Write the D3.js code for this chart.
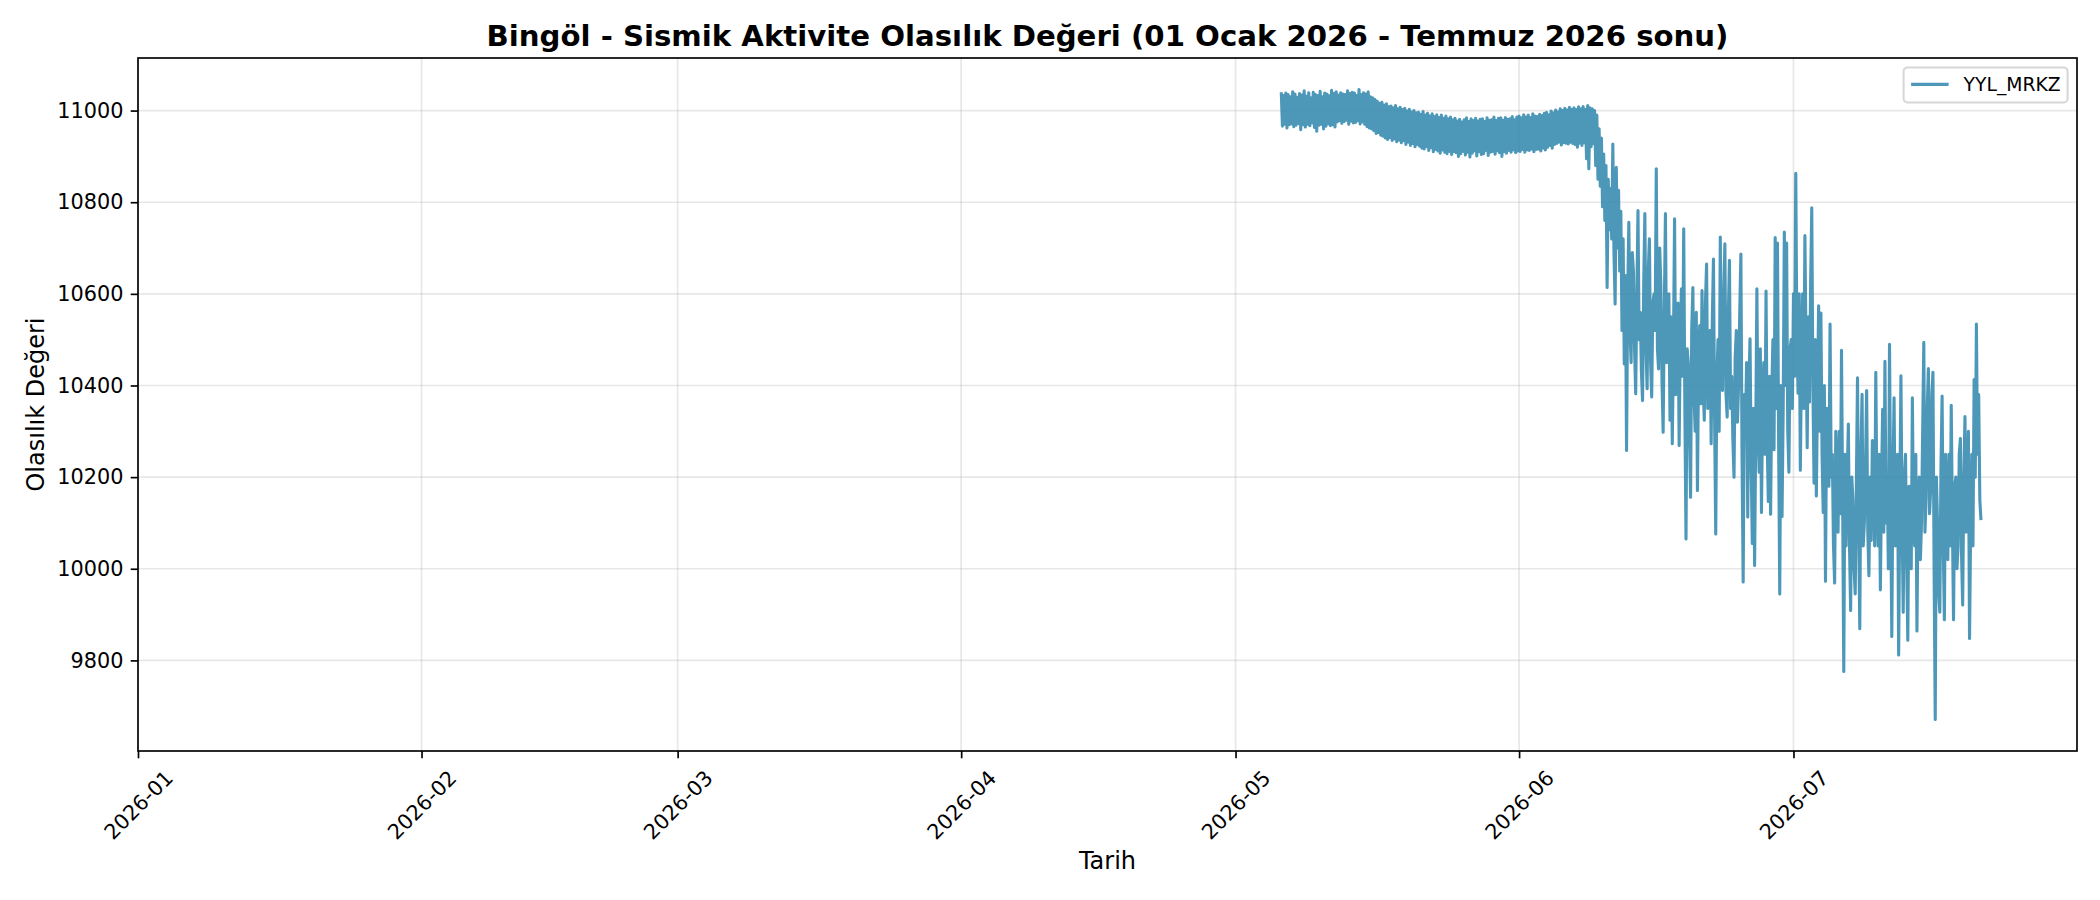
<!DOCTYPE html>
<html>
<head>
<meta charset="utf-8">
<script src="https://cdn.jsdelivr.net/npm/d3@7"></script>
<style>
    body { margin: 0; background: #fff; }
    svg { display: block; font-family: "DejaVu Sans", sans-serif; }
</style>
</head>
<body>
<div id="chart"></div>
<script>
// series: one reading every 3 hours from 6 May 2026, one row per day
const seriesName = "YYL_MRKZ";
const seriesStart = "2026-05-06T00:00";
const stepHours = 3;

const mayValues = [
    11040, 10966, 11033, 10970, 11038, 10962, 11035, 10969,
    11030, 10971, 11041, 10965, 11036, 10968, 11029, 10972,
    11037, 10958, 11034, 10969, 11043, 10964, 11031, 10970,
    11039, 10967, 11028, 10973, 11040, 10963, 11035, 10955,
    11033, 10968, 11042, 10970, 11030, 10960, 11038, 10966,
    11036, 10971, 11032, 10967, 11044, 10969, 11037, 10964,
    11041, 10975, 11034, 10978, 11039, 10972, 11036, 10976,
    11035, 10979, 11043, 10970, 11037, 10977, 11040, 10973,
    11038, 10974, 11033, 10978, 11046, 10971, 11035, 10975,
    11039, 10970, 11036, 10965, 11041, 10962, 11030, 10960,
    11028, 10956, 11024, 10950, 11020, 10952, 11016, 10946,
    11018, 10944, 11012, 10940, 11015, 10937, 11009, 10941,
    11010, 10935, 11006, 10938, 11011, 10932, 11004, 10936,
    11007, 10930, 11002, 10934, 11005, 10926, 10999, 10931,
    11003, 10924, 10997, 10928, 11000, 10921, 10995, 10926,
    10996, 10922, 10992, 10918, 10998, 10916, 10990, 10921,
    10994, 10913, 10988, 10919, 10993, 10910, 10987, 10915,
    10991, 10912, 10985, 10907, 10990, 10914, 10983, 10909,
    10988, 10906, 10982, 10911, 10986, 10904, 10980, 10910,
    10983, 10908, 10977, 10900, 10981, 10906, 10975, 10911,
    10980, 10903, 10984, 10909, 10976, 10899, 10982, 10907,
    10978, 10912, 10983, 10901, 10977, 10910, 10981, 10904,
    10982, 10906, 10976, 10913, 10984, 10902, 10979, 10909,
    10980, 10911, 10986, 10905, 10978, 10912, 10983, 10908,
    10984, 10900, 10979, 10910, 10985, 10907, 10981, 10913,
    10982, 10909, 10987, 10914, 10980, 10908, 10986, 10912
];

const juneValues = [
    10988, 10911, 10984, 10915, 10991, 10909, 10986, 10914,
    10990, 10913, 10985, 10916, 10993, 10910, 10988, 10915,
    10987, 10916, 10992, 10912, 10989, 10918, 10994, 10914,
    10996, 10920, 10991, 10924, 10999, 10918, 10995, 10926,
    11001, 10928, 10997, 10931, 11004, 10925, 11000, 10930,
    11005, 10929, 11001, 10927, 11007, 10931, 11003, 10928,
    11006, 10926, 11002, 10920, 11008, 10929, 11004, 10924,
    11009, 10930, 11003, 10895, 11011, 10873, 11006, 10921,
    11004, 10928, 11000, 10880, 10990, 10850, 10960, 10835,
    10940, 10790, 10905, 10760, 10880, 10614, 10850, 10740,
    10830, 10720, 10927, 10690, 10578, 10876, 10700, 10826,
    10650, 10780, 10520, 10720, 10447, 10640, 10258, 10600,
    10756, 10520, 10450, 10690, 10650, 10480, 10382, 10600,
    10782, 10500, 10560, 10430, 10367, 10620, 10775, 10480,
    10393, 10650, 10720, 10450, 10375, 10580, 10600, 10520,
    10873, 10480, 10436, 10700, 10620, 10410, 10298, 10560,
    10775, 10450, 10500, 10600, 10324, 10550, 10273, 10480,
    10764, 10380, 10400, 10580, 10269, 10500, 10611, 10420,
    10742, 10350, 10065, 10480, 10450, 10300, 10156, 10520,
    10614, 10380, 10300, 10560, 10171, 10450, 10531, 10360,
    10607, 10400, 10324, 10580, 10665, 10350, 10450, 10520,
    10273, 10540, 10676, 10330, 10076, 10420, 10500, 10300,
    10724, 10420, 10389, 10600, 10709, 10380, 10331, 10550,
    10673, 10350, 10420, 10280, 10200, 10460, 10520, 10320,
    10400, 10560, 10687, 10250, 9971, 10380, 10300, 10450,
    10113, 10400, 10502, 10230, 10055, 10350, 10007, 10300,
    10611, 10300, 10211, 10480, 10123, 10350, 10450, 10250,
    10606, 10280, 10147, 10420, 10119, 10380, 10500, 10260,
    10723, 10350, 10711, 10280, 9945, 10400, 10114, 10350,
    10735, 10400, 10711, 10300, 10211, 10480, 10500, 10350
];

const julyValues = [
    10600, 10420, 10863, 10500, 10383, 10600, 10215, 10450,
    10600, 10350, 10727, 10480, 10264, 10550, 10364, 10620,
    10788, 10400, 10187, 10500, 10159, 10380, 10574, 10300,
    10558, 10250, 10123, 10400, 9973, 10350, 10300, 10180,
    10534, 10200, 10250, 10050, 9969, 10300, 10200, 10080,
    10300, 10120, 10477, 10150, 9776, 10250, 10050, 10200,
    10316, 10050, 9909, 10200, 10150, 10000, 9945, 10180,
    10417, 10100, 9869, 10250, 10381, 10050, 10100, 10220,
    10389, 10080, 9985, 10200, 10062, 10280, 10250, 10050,
    10429, 10150, 10050, 10250, 9954, 10180, 10348, 10080,
    10453, 10100, 10200, 10000, 10490, 10150, 9852, 10200,
    10373, 10050, 10100, 10250, 9812, 10150, 10421, 10100,
    9905, 10200, 10250, 10020, 9844, 10180, 10150, 10000,
    10373, 10100, 10050, 10250, 9864, 10150, 10200, 10020,
    10100, 10300, 10494, 10080, 10155, 10350, 10437, 10120,
    10171, 10380, 10429, 10000, 9671, 10200, 10100, 9950,
    9905, 10220, 10377, 10050, 9889, 10250, 10150, 10020,
    10250, 10050, 10357, 10100, 9889, 10180, 10200, 10000,
    10050, 10250, 10284, 10030, 9921, 10200, 10332, 10080,
    10150, 10300, 9848, 10100, 10250, 10050, 10413, 10200,
    10534, 10250, 10380, 10150, 10106
];

const xTickMonths = ["2026-01", "2026-02", "2026-03", "2026-04", "2026-05", "2026-06", "2026-07"];
const yTicks = [9800, 10000, 10200, 10400, 10600, 10800, 11000];

const margin = { top: 58, right: 23, bottom: 149, left: 138 };
const width = 2100 - margin.left - margin.right;
const height = 900 - margin.top - margin.bottom;

const lineColor = "#2E86AB";
const tickFont = 20.8;

const svg = d3.select("#chart")
    .append("svg")
    .attr("width", 2100)
    .attr("height", 900);

const g = svg.append("g")
    .attr("transform", `translate(${margin.left},${margin.top})`);

const start = d3.timeParse("%Y-%m-%dT%H:%M")(seriesStart);
const data = mayValues.concat(juneValues, julyValues).map((v, i) => ({
    date: d3.timeHour.offset(start, i * stepHours),
    value: v
}));

const parseMonth = d3.timeParse("%Y-%m");
const monthDates = xTickMonths.map(parseMonth);

const x = d3.scaleTime()
    .domain([parseMonth("2026-01"), new Date(2026, 6, 31, 23, 59)])
    .range([0, width]);

// matplotlib style 5% margin on y
const [lo, hi] = d3.extent(data, d => d.value);
const pad = (hi - lo) * 0.05;
const y = d3.scaleLinear()
    .domain([lo - pad, hi + pad])
    .range([height, 0]);

// grid
g.append("g")
    .selectAll("line")
    .data(monthDates)
    .join("line")
    .attr("x1", d => x(d)).attr("x2", d => x(d))
    .attr("y1", 0).attr("y2", height)
    .attr("stroke", "#b0b0b0").attr("stroke-opacity", 0.3).attr("stroke-width", 1.67);

g.append("g")
    .selectAll("line")
    .data(yTicks)
    .join("line")
    .attr("x1", 0).attr("x2", width)
    .attr("y1", d => y(d)).attr("y2", d => y(d))
    .attr("stroke", "#b0b0b0").attr("stroke-opacity", 0.3).attr("stroke-width", 1.67);

// data line
svg.append("clipPath").attr("id", "clip")
    .append("rect").attr("width", width).attr("height", height);

const line = d3.line()
    .x(d => x(d.date))
    .y(d => y(d.value));

g.append("path")
    .datum(data)
    .attr("clip-path", "url(#clip)")
    .attr("fill", "none")
    .attr("stroke", lineColor)
    .attr("stroke-opacity", 0.85)
    .attr("stroke-width", 3.1)
    .attr("stroke-linejoin", "round")
    .attr("d", line);

// axes
const xAxis = g.append("g")
    .attr("transform", `translate(0,${height})`)
    .call(d3.axisBottom(x).tickValues(monthDates).tickFormat(d3.timeFormat("%Y-%m")).tickSize(7.3).tickPadding(7.3));

const yAxis = g.append("g")
    .call(d3.axisLeft(y).tickValues(yTicks).tickFormat(d3.format("d")).tickSize(7.3).tickPadding(7.3));

[xAxis, yAxis].forEach(a => {
    a.select(".domain").remove();
    a.selectAll(".tick line").attr("stroke", "#000").attr("stroke-width", 1.67);
    a.selectAll("text")
        .attr("fill", "#000")
        .style("font-family", "DejaVu Sans")
        .style("font-size", tickFont + "px");
});

// rotated month labels, bbox centred under the tick
xAxis.selectAll(".tick text").each(function () {
    const w = this.getComputedTextLength();
    const off = (w + tickFont * 1.164) / Math.SQRT2 / 2;
    d3.select(this)
        .attr("y", 0)
        .attr("dy", "0.35em")
        .attr("text-anchor", "middle")
        .attr("transform", `translate(0,${14.6 + off}) rotate(-45)`);
});

// spines
g.append("rect")
    .attr("width", width).attr("height", height)
    .attr("fill", "none").attr("stroke", "#000").attr("stroke-width", 1.67);

// title & labels
svg.append("text")
    .attr("x", margin.left + width / 2)
    .attr("y", 45.5)
    .attr("text-anchor", "middle")
    .style("font-size", "29.2px")
    .style("font-weight", "bold")
    .text("Bingöl - Sismik Aktivite Olasılık Değeri (01 Ocak 2026 - Temmuz 2026 sonu)");

svg.append("text")
    .attr("x", margin.left + width / 2)
    .attr("y", 869)
    .attr("text-anchor", "middle")
    .style("font-size", "24px")
    .text("Tarih");

svg.append("text")
    .attr("transform", `translate(36,${margin.top + height / 2}) rotate(-90)`)
    .attr("text-anchor", "middle")
    .attr("dy", "0.35em")
    .style("font-size", "24px")
    .text("Olasılık Değeri");

// legend
const legend = g.append("g")
    .attr("transform", `translate(${width - 9.4 - 164},9.4)`);

legend.append("rect")
    .attr("width", 164).attr("height", 35)
    .attr("rx", 4)
    .attr("fill", "#fff").attr("fill-opacity", 0.8)
    .attr("stroke", "#d6d6d6").attr("stroke-width", 2);

legend.append("line")
    .attr("x1", 7.5).attr("x2", 45)
    .attr("y1", 17).attr("y2", 17)
    .attr("stroke", lineColor).attr("stroke-opacity", 0.85).attr("stroke-width", 3.1);

legend.append("text")
    .attr("x", 60).attr("y", 17)
    .attr("dy", "0.35em")
    .style("font-size", "18.75px")
    .text(seriesName);
</script>
</body>
</html>
